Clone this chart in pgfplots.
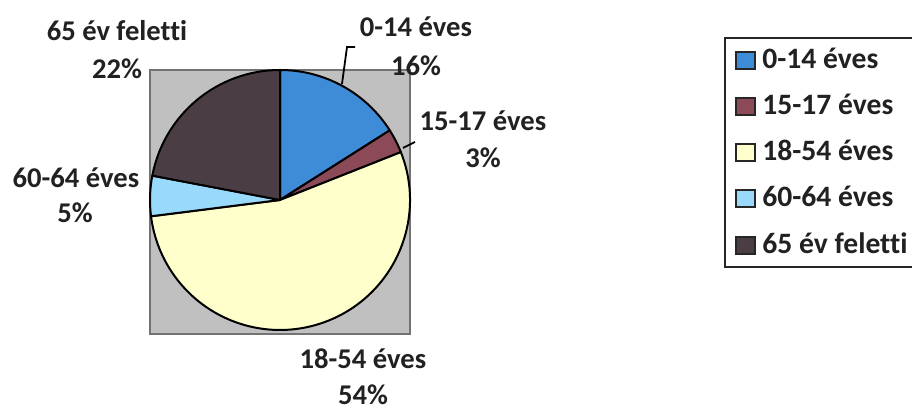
\documentclass[border=0pt]{standalone}
\usepackage{fontspec}
\setmainfont{Carlito}[Ligatures=NoCommon]
\usepackage{pgfplots}
\usepackage{pgfplotstable}
\pgfplotsset{compat=1.18}

\definecolor{c1}{RGB}{62,140,215}
\definecolor{c2}{RGB}{140,74,88}
\definecolor{c3}{RGB}{255,255,204}
\definecolor{c4}{RGB}{153,217,250}
\definecolor{c5}{RGB}{74,62,68}
\definecolor{bgsq}{RGB}{192,192,192}
\definecolor{txt}{RGB}{33,33,33}

% age groups, share in percent
\pgfplotstableread[col sep=comma]{
label,value,color
0-14 éves,16,c1
15-17 éves,3,c2
18-54 éves,54,c3
60-64 éves,5,c4
65 év feletti,22,c5
}\piedata

\begin{document}
\begin{tikzpicture}[x=0.5pt,y=-0.5pt,
  lbl/.style={font=\bfseries\fontsize{14.3}{16}\selectfont, text=txt, inner sep=0pt},
  leg/.style={font=\bfseries\fontsize{14.8}{16}\selectfont, text=txt, inner sep=0pt}]
\useasboundingbox (0,0) rectangle (912,410);
\begin{axis}[
    at={(75pt,-35pt)}, anchor=north west,
    scale only axis, width=130pt, height=132pt,
    xmin=-1, xmax=1, ymin=-1.0308, ymax=1,
    xtick=\empty, ytick=\empty,
    axis background/.style={fill=bgsq},
    axis line style={black!55, line width=0.6pt},
    clip=false
]
\pgfplotsextra{
  \pgfplotstablegetrowsof{\piedata}\let\nrows\pgfplotsretval
  \pgfmathtruncatemacro\lastrow{\nrows-1}
  \gdef\cum{0}
  \foreach \i in {0,...,\lastrow}{
    \pgfplotstablegetelem{\i}{value}\of\piedata \let\v\pgfplotsretval
    \pgfplotstablegetelem{\i}{color}\of\piedata \let\col\pgfplotsretval
    \pgfmathsetmacro\a{90-3.6*\cum}
    \pgfmathsetmacro\b{90-3.6*(\cum+\v)}
    \pgfmathsetmacro\ca{cos(\a)}
    \pgfmathsetmacro\sa{sin(\a)}
    \filldraw[fill=\col, draw=black, line width=1pt, line join=round]
      (axis cs:0,0) -- (axis cs:\ca,\sa)
      arc[start angle=\a, end angle=\b, radius=65pt] -- cycle;
    \pgfmathsetmacro\newcum{\cum+\v}
    \xdef\cum{\newcum}
  }
}
\end{axis}

% leader lines
\draw[black, line width=0.9pt] (342,84) -- (347,47) -- (355,47);
\draw[black, line width=0.9pt] (403,148) -- (415,142);

% slice labels
\node[lbl, anchor=base] at (117,41) {65 év feletti};
\node[lbl, anchor=base] at (117,79) {22\%};
\node[lbl, anchor=base] at (416,37) {0-14 éves};
\node[lbl, anchor=base] at (416,76) {16\%};
\node[lbl, anchor=base] at (483,131) {15-17 éves};
\node[lbl, anchor=base] at (483,168) {3\%};
\node[lbl, anchor=base] at (76,188) {60-64 éves};
\node[lbl, anchor=base] at (75,223) {5\%};
\node[lbl, anchor=base] at (363,369) {18-54 éves};
\node[lbl, anchor=base] at (363,405) {54\%};

% legend
\draw[black!85, line width=0.9pt] (916,38) -- (725,38) -- (725,267) -- (916,267);
\foreach \y/\c/\t in {69/c1/0-14 éves, 115/c2/15-17 éves, 161/c3/18-54 éves,
                      207/c4/60-64 éves, 254/c5/65 év feletti}{
  \filldraw[fill=\c, draw=black!85, line width=0.8pt] (736,\y-17) rectangle (755,\y);
  \node[leg, anchor=base west] at (762,\y) {\t};
}
\end{tikzpicture}
\end{document}
